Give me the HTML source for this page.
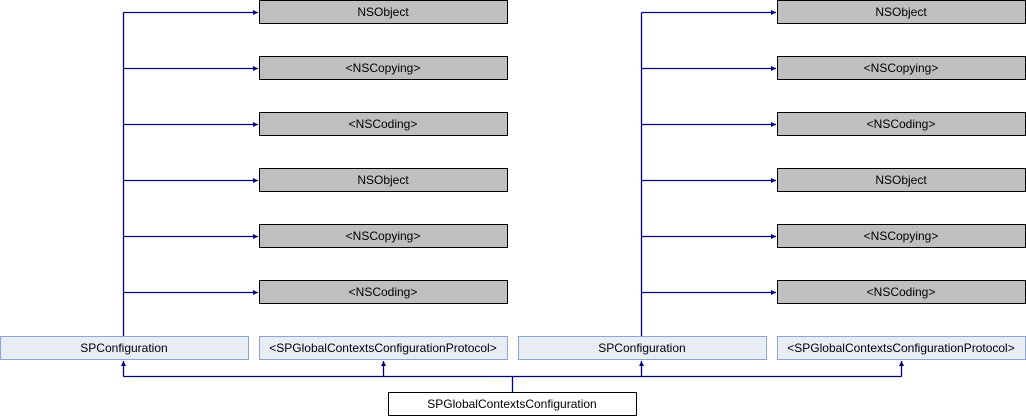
<!DOCTYPE html>
<html><head><style>html,body{margin:0;padding:0;background:#fff}svg{display:block}text{font-family:"Liberation Sans",sans-serif;font-size:12px;text-anchor:middle}</style></head><body>
<svg width="1026" height="416" viewBox="0 0 1026 416" xmlns="http://www.w3.org/2000/svg">
<defs>
<marker id="a" markerWidth="6" markerHeight="6" refX="5" refY="3" orient="auto" markerUnits="userSpaceOnUse"><path d="M0,0.5 L5,3 L0,5.5Z" fill="#000080"/></marker>
</defs>
<g id="L">
<g fill="#bfbfbf" stroke="#000" stroke-width="1">
<rect x="259.5" y="0.5" width="248" height="23"/>
<rect x="259.5" y="56.5" width="248" height="23"/>
<rect x="259.5" y="112.5" width="248" height="23"/>
<rect x="259.5" y="168.5" width="248" height="23"/>
<rect x="259.5" y="224.5" width="248" height="23"/>
<rect x="259.5" y="280.5" width="248" height="23"/>
</g>
<g>
<text x="383" y="16">NSObject</text>
<text x="383" y="72">&lt;NSCopying&gt;</text>
<text x="383" y="128">&lt;NSCoding&gt;</text>
<text x="383" y="184">NSObject</text>
<text x="383" y="240">&lt;NSCopying&gt;</text>
<text x="383" y="296">&lt;NSCoding&gt;</text>
</g>
<g fill="#e8ecf5" stroke="#8ca5d6">
<rect x="0.5" y="336.5" width="248" height="23"/>
<rect x="259.5" y="336.5" width="248" height="23"/>
</g>
<text x="124" y="352">SPConfiguration</text>
<text x="383" y="352">&lt;SPGlobalContextsConfigurationProtocol&gt;</text>
<g stroke="#000080" stroke-width="1.3" fill="none">
<path d="M123.5,336 V12.5"/>
<path d="M123.5,12.5 H258" marker-end="url(#a)"/>
<path d="M123.5,68.5 H258" marker-end="url(#a)"/>
<path d="M123.5,124.5 H258" marker-end="url(#a)"/>
<path d="M123.5,180.5 H258" marker-end="url(#a)"/>
<path d="M123.5,236.5 H258" marker-end="url(#a)"/>
<path d="M123.5,292.5 H258" marker-end="url(#a)"/>
<path d="M123.5,376.5 V361" marker-end="url(#a)"/>
<path d="M383.5,376.5 V361" marker-end="url(#a)"/>
</g>
</g>
<use href="#L" x="518"/>
<path d="M123.5,376.5 H901.5 M512.5,376.5 V392" stroke="#000080" stroke-width="1.3" fill="none"/>
<rect x="388.5" y="392.5" width="248" height="23" fill="#fff" stroke="#000"/>
<text x="512" y="408">SPGlobalContextsConfiguration</text>
</svg>
</body></html>
